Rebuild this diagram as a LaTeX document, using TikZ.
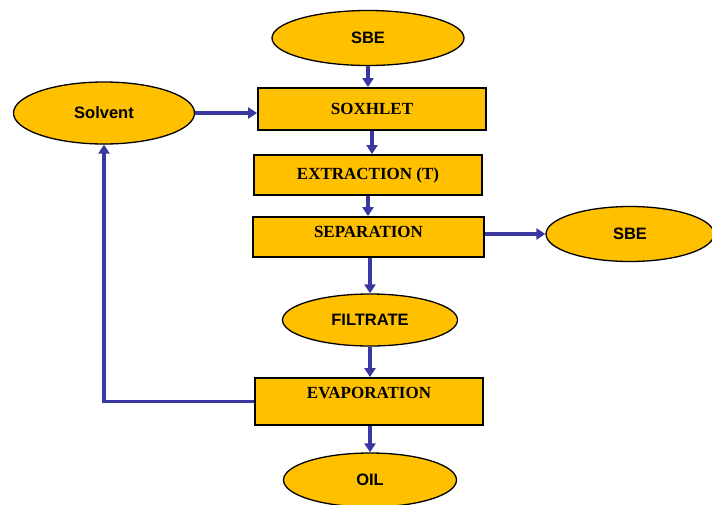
\documentclass[tikz,border=0pt]{standalone}
\usepackage{fontspec}
\setmainfont{Liberation Serif}
\setsansfont{Liberation Sans}
\usetikzlibrary{positioning}
\usetikzlibrary{shapes.geometric}
\usetikzlibrary{arrows.meta}
\definecolor{gold}{RGB}{255,192,0}
\definecolor{flowblue}{RGB}{56,56,160}

\begin{document}
\begin{tikzpicture}[x=1pt,y=-1pt,
  oval/.style={ellipse,draw=black,line width=1.3pt,fill=gold,inner sep=0pt,
    font=\sffamily\bfseries\fontsize{16.5}{18}\selectfont},
  box/.style={rectangle,draw=black,line width=1.8pt,fill=gold,inner sep=0pt,
    font=\rmfamily\bfseries\fontsize{17}{19}\selectfont},
  flow/.style={draw=flowblue,line width=3.2pt,-{Triangle[length=9pt,width=11pt]}}]
 \useasboundingbox (0,0) rectangle (712,504);
 \node[oval,minimum width=192,minimum height=55] (sbe) at (368,38) {SBE};
 \node[box,minimum width=228,minimum height=42] (soxhlet) at (372,109) {SOXHLET};
 \node[box,minimum width=228,minimum height=40] (extraction) at (368,175) {EXTRACTION (T)};
 \node[box,minimum width=231,minimum height=40,text height=10pt,text depth=10pt] (separation) at (368.5,237) {SEPARATION};
 \node[oval,minimum width=168,minimum height=55] (sbeout) at (630,234) {SBE};
 \node[oval,minimum width=175,minimum height=52] (filtrate) at (370,320) {FILTRATE};
 \node[box,minimum width=228,minimum height=47,text height=10pt,text depth=17pt] (evaporation) at (369,401.5) {EVAPORATION};
 \node[oval,minimum width=173,minimum height=54] (oil) at (370,480) {OIL};
 \node[oval,minimum width=181,minimum height=62] (solvent) at (104,113) {Solvent};
 % connectors
 \draw[flow] (sbe) -- (sbe |- soxhlet.north);
 \draw[flow] (soxhlet.south) -- (soxhlet.south |- extraction.north);
 \draw[flow] (extraction) -- (extraction |- separation.north);
 \draw[flow] (filtrate |- separation.south) -- (filtrate);
 \draw[flow] (sbeout -| separation.east) -- (sbeout);
 \draw[flow] (solvent) -- (solvent -| soxhlet.west);
 \draw[flow] (filtrate) -- (filtrate |- evaporation.north);
 \draw[flow] (oil |- evaporation.south) -- (oil);
 \draw[flow] (evaporation.west) -| (solvent);
\end{tikzpicture}
\end{document}
